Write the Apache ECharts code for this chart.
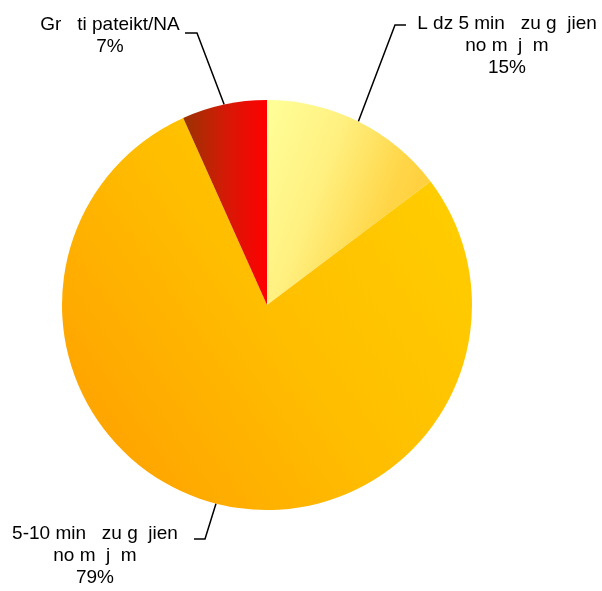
<!DOCTYPE html>
<html>
<head>
<meta charset="utf-8">
<script src="https://cdn.jsdelivr.net/npm/echarts@6/dist/echarts.min.js"></script>
<style>html,body{margin:0;padding:0;background:#fff}#c{width:602px;height:591px}</style>
</head>
<body>
<div id="c"></div>
<script>
var categories = ['L dz 5 min   zu g  jien\nno m  j  m', '5-10 min   zu g  jien\nno m  j  m', 'Gr   ti pateikt/NA'];
var values = [14.7, 78.6, 6.7];

var fills = [
  {type:'linear',x:0,y:0,x2:1,y2:0.3,colorStops:[{offset:0,color:'#FFFF99'},{offset:0.45,color:'#FFF080'},{offset:0.85,color:'#FFD648'},{offset:1,color:'#FFD040'}]},
  {type:'linear',x:0,y:0.85,x2:0.9,y2:0.2,colorStops:[{offset:0,color:'#FFA000'},{offset:0.55,color:'#FFBE00'},{offset:1,color:'#FFCC00'}]},
  {type:'linear',x:0,y:0,x2:1,y2:0,colorStops:[{offset:0,color:'#993300'},{offset:0.5,color:'#D41A06'},{offset:1,color:'#FF0000'}]}
];
var labelPos = [
  {x:507, y:13, bend:[395,25], end:[406,25]},
  {x:95, y:523, bend:[205,539], end:[194,539]},
  {x:110, y:14, bend:[197,33], end:[185,33]}
];

var chart = echarts.init(document.getElementById('c'));
chart.setOption({
  animation:false,
  series:[{
    type:'pie',
    center:[267,305],
    radius:[0,205],
    startAngle:90,
    clockwise:true,
    emphasis:{disabled:true},
    itemStyle:{borderWidth:0},
    label:{
      show:true,
      formatter:function(p){ return p.name + '\n' + Math.round(p.percent) + '%'; },
      fontFamily:'Liberation Sans, Arial, sans-serif',
      fontSize:19,
      lineHeight:22,
      color:'#000',
      align:'center'
    },
    labelLine:{show:true,lineStyle:{color:'#000',width:1.5},length:20,length2:10},
    labelLayout:function(p){
      var L = labelPos[p.dataIndex];
      var start = p.labelLinePoints ? p.labelLinePoints[0] : L.bend;
      return {x:L.x, y:L.y, align:'center', verticalAlign:'top', labelLinePoints:[start, L.bend, L.end]};
    },
    data: categories.map(function(c,i){return {name:c, value:values[i], itemStyle:{color:fills[i]}};})
  }]
});
</script>
</body>
</html>
